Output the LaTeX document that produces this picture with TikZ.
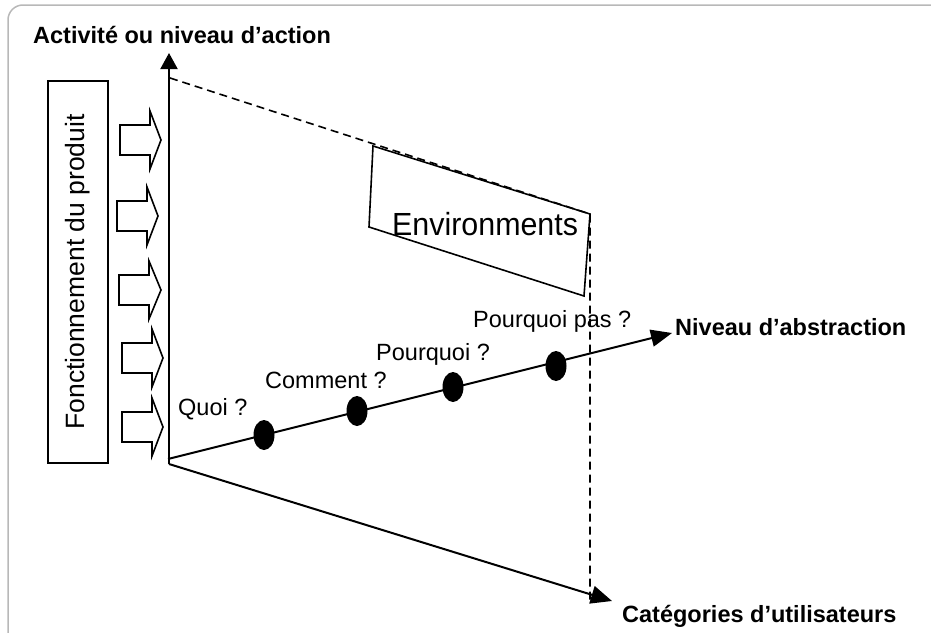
\documentclass[tikz,border=0pt]{standalone}
\usepackage{fontspec}
\usepackage{graphicx}
\setmainfont{Liberation Sans}
\usetikzlibrary{arrows.meta,shapes.geometric}
\begin{document}
\begin{tikzpicture}[x=1pt,y=-1pt,
  axisline/.style={line width=2pt},
  dashline/.style={line width=1.6pt,dash pattern=on 8pt off 5pt},
  lbl/.style={font=\fontsize{23.5}{28}\selectfont, inner sep=0pt, anchor=base west},
  blbl/.style={lbl, font=\fontsize{23.5}{28}\selectfont\bfseries},
  dot/.style={ellipse, fill=black, minimum width=21pt, minimum height=30pt, inner sep=0pt},
  blockarrow/.style={line width=1.6pt, fill=white, line join=miter},
  thin/.style={line width=1.6pt}
]
\useasboundingbox (0,0) rectangle (931,632);
\clip (0,0) rectangle (931,632);
% frame
\draw[line width=1.5pt, black!28, rounded corners=15pt] (8,5) rectangle (950,650);

% coordinates
\coordinate (O) at (169,464);
\coordinate (Oa) at (168,459);
\coordinate (Ytip) at (169,53);
\coordinate (Atip) at (672,333);
\coordinate (Ctip) at (612,601);
\coordinate (Dtop) at (170,78);
\coordinate (Dcorner) at (590,214);
\coordinate (Dbottom) at (590,602);

% left box
\node[draw, thin, rotate=90, minimum width=382pt, minimum height=60pt, inner sep=0pt,
      font=\fontsize{26.5}{30}\selectfont] (func) at (78,272) {Fonctionnement du produit};

% block arrows
\foreach \a/\b/\t/\c in {120/150/161/140, 117/147/158/216, 119/149/161/290, 122/152/163/358, 122/152/163/427}
  \draw[blockarrow] (\a,\c-15) -- (\b,\c-15) -- (\b,\c-29) -- (\t,\c) -- (\b,\c+29) -- (\b,\c+15) -- (\a,\c+15) -- cycle;

% environments box
\draw[thin] (373,146) coordinate (e1) -- (590,214) coordinate (e2) -- (584,296) coordinate (e3) -- (369,227) coordinate (e4) -- cycle;
\node[inner sep=0pt, anchor=base west, font=\fontsize{32}{36}\selectfont] (env) at (392,235) {\scalebox{0.95}[1]{Environments}};

% dashed plane
\draw[dashline] (Dtop) -- (Dcorner) -- (Dbottom);

% axes
\draw[axisline, -{Triangle[length=16pt,width=17pt]}] (O) -- (Ytip);
\draw[axisline, -{Triangle[length=21pt,width=17pt]}] (Oa) -- (Atip);
\draw[axisline, -{Triangle[length=21pt,width=18pt]}] (O) -- (Ctip);

% dots
\node[dot] (d1) at (264,435) {};
\node[dot] (d2) at (357,411) {};
\node[dot] (d3) at (453,387) {};
\node[dot] (d4) at (556,366) {};

% labels
\node[blbl] (lact) at (33,43) {Activité ou niveau d’action};
\node[blbl] (labs) at (675,335) {Niveau d’abstraction};
\node[blbl] (lcat) at (622,622) {Catégories d’utilisateurs};
\node[lbl] (lq) at (178,415) {Quoi ?};
\node[lbl] (lc) at (265,388) {Comment ?};
\node[lbl] (lp) at (376,360) {Pourquoi ?};
\node[lbl] (lpp) at (473,327) {Pourquoi pas ?};
\end{tikzpicture}
\end{document}
